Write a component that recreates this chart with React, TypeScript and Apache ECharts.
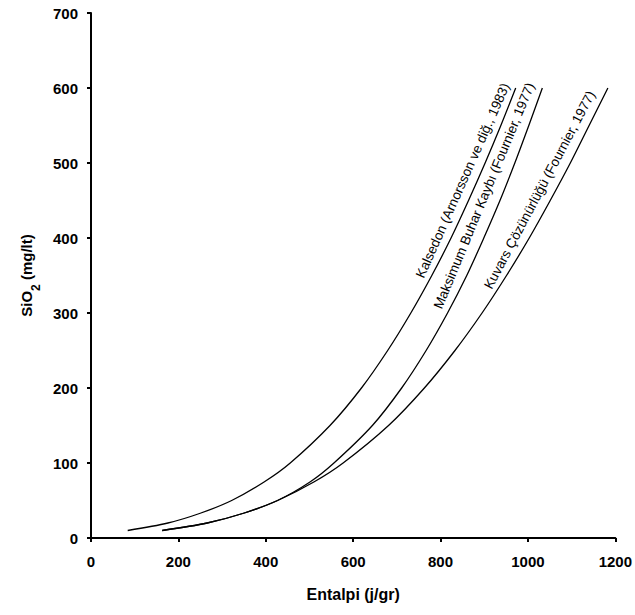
import React, { useEffect, useRef } from "react";
import * as echarts from "echarts";

// SiO2 levels (mg/lt) at which each curve was read
const siO2Levels = [10, 20, 33, 50, 75, 100, 150, 200, 250, 300, 350, 400, 450, 500, 550, 600];

// Enthalpy (j/gr) at those SiO2 levels
const kalsedonEnthalpy = [84, 176, 250, 322, 397, 456, 547, 619, 679, 732, 780, 824, 864, 902, 938, 972];
const maksimumEnthalpy = [163, 266, 349, 427, 502, 556, 644, 711, 767, 816, 860, 899, 936, 970, 1002, 1033];
const kuvarsEnthalpy = [163, 266, 349, 427, 511, 577, 681, 763, 833, 895, 951, 1003, 1051, 1097, 1140, 1183];

const curveNames = [
  "Kalsedon (Arnorsson ve diğ., 1983)",
  "Maksimum Buhar Kaybı (Fournier, 1977)",
  "Kuvars Çözünürlüğü (Fournier, 1977)",
];

// label anchors in data space [enthalpy, SiO2] and text angles (degrees)
const labelAnchors: [number, number][] = [
  [767, 344],
  [808, 303],
  [922, 329],
];
const labelAngles = [66, 67.5, 62];

const xTicks = { min: 0, max: 1200, interval: 200 };
const yTicks = { min: 0, max: 700, interval: 100 };

const FONT = "'Liberation Sans', Arial, Helvetica, sans-serif";

export default function App() {
  const ref = useRef<HTMLDivElement>(null);

  useEffect(() => {
    if (!ref.current) return;
    const chart = echarts.init(ref.current, null, { renderer: "svg" });

    const toPairs = (xs: number[]) => xs.map((x, i) => [x, siO2Levels[i]]);
    const curves = [kalsedonEnthalpy, maksimumEnthalpy, kuvarsEnthalpy];
    const plain = (v: number) => String(v);

    chart.setOption({
      animation: false,
      backgroundColor: "#ffffff",
      grid: { left: 91, right: 18, top: 13, bottom: 77, containLabel: false },
      xAxis: {
        type: "value",
        min: xTicks.min,
        max: xTicks.max,
        interval: xTicks.interval,
        name: "Entalpi (j/gr)",
        nameLocation: "middle",
        nameGap: 48,
        nameTextStyle: { fontSize: 16, fontWeight: "bold", color: "#000", fontFamily: FONT },
        axisLine: { show: true, onZero: false, lineStyle: { color: "#000", width: 2 } },
        axisTick: { show: true, length: 4, lineStyle: { color: "#000", width: 2 } },
        axisLabel: {
          margin: 16,
          fontSize: 15,
          fontWeight: "bold",
          color: "#000",
          fontFamily: FONT,
          formatter: plain,
        },
        splitLine: { show: false },
      },
      yAxis: {
        type: "value",
        min: yTicks.min,
        max: yTicks.max,
        interval: yTicks.interval,
        name: "{a|SiO}{b|2}{a| (mg/lt)}",
        nameLocation: "middle",
        nameGap: 51,
        nameRotate: 90,
        nameTextStyle: {
          fontSize: 15,
          fontWeight: "bold",
          color: "#000",
          fontFamily: FONT,
          rich: {
            a: { fontSize: 15, fontWeight: "bold", color: "#000", fontFamily: FONT, lineHeight: 18 },
            b: {
              fontSize: 12,
              fontWeight: "bold",
              color: "#000",
              fontFamily: FONT,
              lineHeight: 12,
              padding: [19, 0, 0, 0],
            },
          },
        },
        axisLine: { show: true, onZero: false, lineStyle: { color: "#000", width: 2 } },
        axisTick: { show: true, length: 4, lineStyle: { color: "#000", width: 2 } },
        axisLabel: {
          margin: 13,
          fontSize: 15,
          fontWeight: "bold",
          color: "#000",
          fontFamily: FONT,
          formatter: plain,
        },
        splitLine: { show: false },
      },
      series: curves.map((c, i) => ({
        type: "line",
        name: curveNames[i],
        data: toPairs(c),
        symbol: "none",
        smooth: 0.3,
        silent: true,
        lineStyle: { color: "#000", width: 1.3 },
      })),
    });

    const graphic = curveNames.map((text, i) => {
      const p = chart.convertToPixel({ gridIndex: 0 }, labelAnchors[i]) as number[];
      return {
        type: "text",
        x: p[0],
        y: p[1],
        rotation: (labelAngles[i] * Math.PI) / 180,
        silent: true,
        style: {
          text,
          fill: "#000",
          font: `13.5px ${FONT}`,
          align: "left",
          verticalAlign: "bottom",
        },
      };
    });
    chart.setOption({ graphic });

    return () => chart.dispose();
  }, []);

  return (
    <div
      ref={ref}
      style={{ position: "fixed", left: 0, top: 0, width: 635, height: 615, background: "#fff" }}
    />
  );
}
